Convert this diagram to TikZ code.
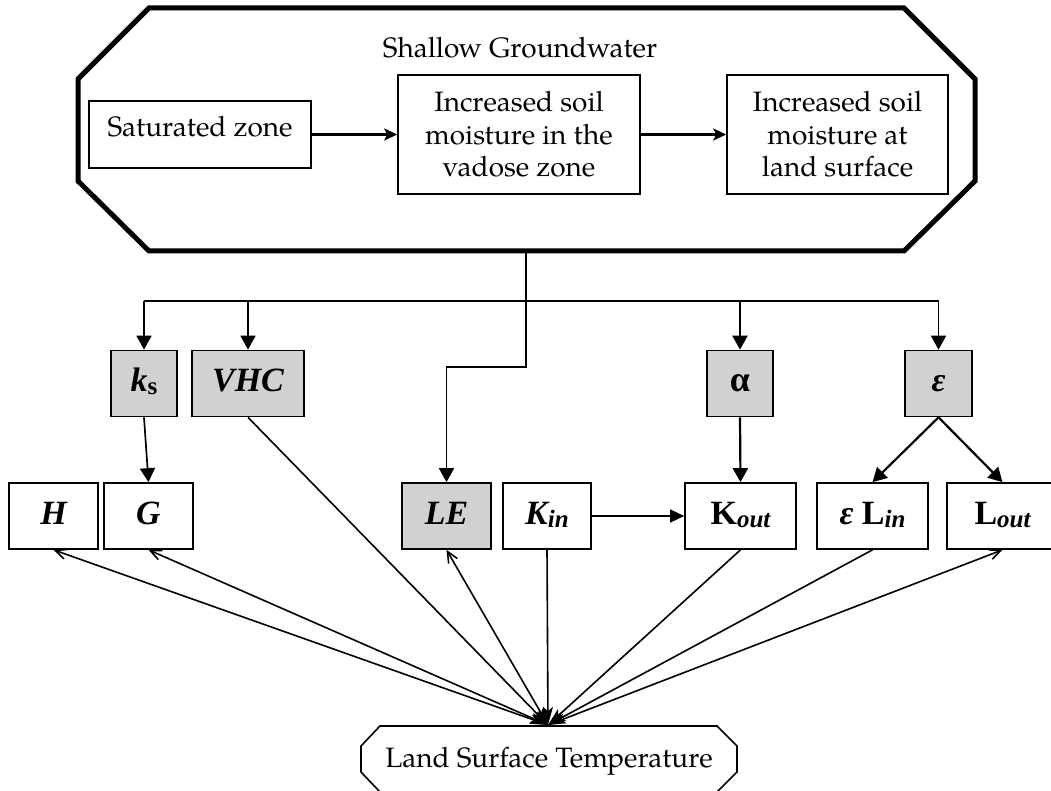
\documentclass[tikz,border=0pt]{standalone}
\usepackage{fontspec}
\usetikzlibrary{arrows.meta,calc}
\newfontfamily\pal{texgyrepagella}[Extension=.otf,UprightFont=*-regular,BoldFont=*-bold,ItalicFont=*-italic,BoldItalicFont=*-bolditalic]
\newfontfamily\tms{Liberation Serif}
\newcommand{\lsub}[1]{\raisebox{-3pt}{\fontsize{25}{25}\selectfont #1}}
\definecolor{dotgray}{gray}{0.82}
\begin{document}
\begin{tikzpicture}[x=1pt,y=-1pt,
  txt/.style={font=\pal\fontsize{28}{32.5}\selectfont, align=center},
  tbox/.style={txt, draw, line width=1.6pt, inner sep=0pt},
  lab/.style={draw, line width=1.7pt, inner sep=0pt, font=\tms\fontsize{34}{36}\selectfont, text height=24pt, text depth=8pt, minimum height=66pt},
  glab/.style={lab, fill=dotgray},
  bus/.style={line width=1.7pt},
  tri/.style={-{Triangle[length=14pt,width=15pt]}},
  harr/.style={line width=2.2pt, -{Stealth[length=13pt,width=12pt,inset=3pt]}},
  larr/.style={line width=1.6pt, -{Stealth[length=18pt,width=10pt,inset=4pt]}},
  barr/.style={line width=1.6pt, {Straight Barb[length=11pt,width=10pt]}-{Stealth[length=18pt,width=10pt,inset=4pt]}}
]
\path[use as bounding box] (0,0) rectangle (1051,791);
% shallow groundwater octagon
\draw[line width=5pt, line join=miter] (149,8) -- (904,8) -- (975,79) -- (975,181) -- (904,251) -- (149,251) -- (78,181) -- (78,79) -- cycle;
\coordinate (gwb) at (526,251);
\node[txt, anchor=base] (title) at (520,58) {Shallow Groundwater};
\node[tbox, minimum width=222pt, minimum height=67pt, text height=20pt, text depth=15pt] (sat) at (200,134.5) {Saturated zone};
\node[tbox, minimum width=242pt, minimum height=119pt] (mid) at (519,134.5) {Increased soil\\moisture in the\\vadose zone};
\node[tbox, minimum width=221pt, minimum height=119pt] (rgt) at (837.5,134.5) {Increased soil\\moisture at\\land surface};
\draw[harr] (sat) -- (mid);
\draw[harr] (mid) -- (rgt);

% parameter boxes
\node[glab, minimum width=66pt] (ks) at (144,383.5) {{\bfseries\itshape k}\lsub{\bfseries s}};
\node[glab, minimum width=112pt] (vhc) at (248,383.5) {\bfseries\itshape VHC};
\node[glab, minimum width=66pt] (alpha) at (740,383.5) {\fontsize{36}{36}\selectfont\bfseries α};
\node[glab, minimum width=67pt] (eps) at (938.5,383.5) {\bfseries\itshape ε};

% flux boxes
\node[lab, minimum width=89pt] (H) at (53.5,516) {\bfseries\itshape H};
\node[lab, minimum width=89pt] (G) at (148.5,516) {\bfseries\itshape G};
\node[glab, minimum width=89pt] (LE) at (446.5,516) {\bfseries\itshape LE};
\node[lab, minimum width=88pt] (Kin) at (547,516) {{\bfseries\itshape K}\lsub{\bfseries\itshape in}};
\node[lab, minimum width=111pt] (Kout) at (740.5,516) {{\bfseries K}\lsub{\bfseries\itshape out}};
\node[lab, minimum width=111pt] (eLin) at (872.5,516) {{\bfseries\itshape ε} {\bfseries L}\lsub{\bfseries\itshape in}};
\node[lab, minimum width=111pt] (Lout) at (1002.5,516) {{\bfseries L}\lsub{\bfseries\itshape out}};

% bus
\coordinate (j) at (526,301);
\draw[bus] (gwb) -- (j);
\draw[bus] (ks.north |- j) -- (eps.north |- j);
\draw[bus, tri] (ks.north |- j) -- (ks.north);
\draw[bus, tri] (vhc.north |- j) -- (vhc.north);
\draw[line width=2.2pt, tri] (alpha.north |- j) -- (alpha.north);
\draw[bus, tri] (eps.north |- j) -- (eps.north);
\draw[bus, tri] (j) -- (526,367) -| (LE.north);

% parameter to flux
\draw[line width=1.7pt, tri] (ks.south) -- (G.north);
\draw[line width=2.2pt, tri] (alpha.south) -- (Kout.north);
\draw[line width=2.2pt, tri] (eps.south) -- (eLin.north);
\draw[line width=2.2pt, tri] (eps.south) -- (Lout.north);
\draw[line width=1.6pt, -{Triangle[length=14pt,width=13pt]}] (Kin) -- (Kout);

% land surface temperature
\draw[line width=1.6pt] (380,726) -- (717,726) -- (737,746) -- (737,772) -- (717,792) -- (380,792) -- (361,772) -- (361,746) -- cycle;
\node[txt, anchor=base] (lst) at (549,767) {Land Surface Temperature};
\coordinate (p) at (548,725);

\draw[barr] (H.south) -- (p);
\draw[barr] (G.south) -- (p);
\draw[larr] (vhc.south) -- (p);
\draw[barr] (LE.south) -- (p);
\draw[larr] (Kin.south) -- (p);
\draw[larr] (Kout.south) -- (p);
\draw[larr] (eLin.south) -- (p);
\draw[barr] (Lout.south) -- (p);
\end{tikzpicture}
\end{document}
